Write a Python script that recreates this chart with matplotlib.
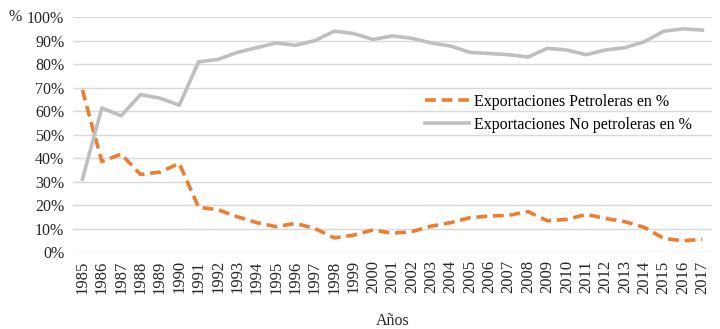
import matplotlib.pyplot as plt

years = [str(y) for y in range(1985, 2018)]
petroleras = [69, 38.5, 41.7, 33, 34, 37.7, 19, 18, 15, 12.5, 10.8, 12.2, 10, 6, 7.2,
              9.4, 8, 8.7, 11, 12.5, 14.6, 15.3, 15.6, 17.2, 13.3, 13.9, 16, 14.3, 12.9,
              10.5, 5.8, 4.8, 5.4]
no_petroleras = [31, 61.3, 58, 67, 65.5, 62.5, 81, 82, 85, 87, 89, 88, 90, 94, 93,
                 90.5, 92, 91, 89, 87.7, 85, 84.5, 84, 83, 86.7, 86, 84, 86, 87,
                 89.5, 94, 95, 94.5]

plt.rcParams['font.family'] = ['Liberation Serif', 'DejaVu Serif']

fig = plt.figure(figsize=(7.2, 3.29), dpi=100)
ax = fig.add_axes([0.101, 0.234, 0.888, 0.714])

x = range(len(years))
ax.plot(x, petroleras, color='#ED7D31', lw=2.6, linestyle=(0, (3, 1.6)),
        label='Exportaciones Petroleras en %', zorder=3)
ax.plot(x, no_petroleras, color='#BFBFBF', lw=2.6,
        label='Exportaciones No petroleras en %', zorder=3)

ax.set_xlim(-0.5, len(years) - 0.5)
ax.set_ylim(0, 100)
ax.set_yticks(range(0, 101, 10))
ax.set_yticklabels([f'{v}%' for v in range(0, 101, 10)], fontsize=11.5, color='#262626')
ax.set_xticks(list(x))
ax.set_xticklabels(years, rotation=90, fontsize=12, color='#262626')
ax.tick_params(length=0, pad=6)
ax.grid(axis='y', color='#D9D9D9', lw=1)
ax.set_axisbelow(True)
for s in ax.spines.values():
    s.set_visible(False)

fig.text(0.012, 0.948, '%', fontsize=11.5, color='#262626', va='center')
ax.set_xlabel('Años', fontsize=11.5, color='#262626', labelpad=14)

ax.legend(loc='center left', bbox_to_anchor=(0.528, 0.59), frameon=False,
          fontsize=11.5, handlelength=2.8, handletextpad=0.3, labelspacing=0.45)

fig.savefig('out.png', dpi=100, facecolor='white')
